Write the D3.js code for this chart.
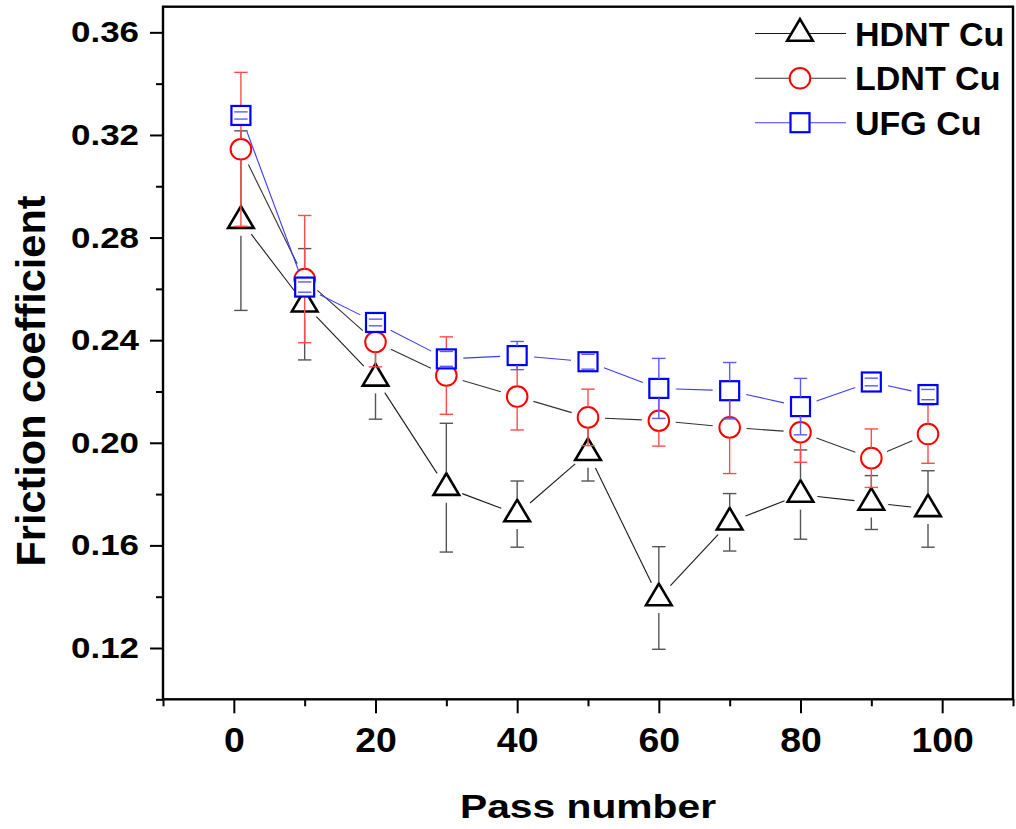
<!DOCTYPE html>
<html><head><meta charset="utf-8">
<script src="https://cdn.jsdelivr.net/npm/d3@7"></script>
<style>
body{margin:0;background:#fff}
svg{display:block}
text{font-family:"Liberation Sans",Arial,Helvetica,sans-serif;font-weight:bold;fill:#000}
</style>
</head><body>
<svg id="chart" width="1016" height="829"></svg>
<script>
// ---- data ----
const passNumbers = [1, 10, 20, 30, 40, 50, 60, 70, 80, 90, 98];
const hdntCu    = [0.2866, 0.2540, 0.2251, 0.1825, 0.1722, 0.1961, 0.1395, 0.1690, 0.1798, 0.1767, 0.1742];
const hdntCuErr = [0.0350, 0.0217, 0.0159, 0.0251, 0.0129, 0.0110, 0.0200, 0.0112, 0.0174, 0.0105, 0.0149];
const ldntCu    = [0.3144, 0.2638, 0.2393, 0.2262, 0.2180, 0.2099, 0.2086, 0.2060, 0.2041, 0.1940, 0.2034];
const ldntCuErr = [0.0300, 0.0248, 0.0097, 0.0151, 0.0130, 0.0110, 0.0099, 0.0180, 0.0117, 0.0114, 0.0114];
const ufgCu     = [0.3276, 0.2607, 0.2469, 0.2327, 0.2340, 0.2316, 0.2212, 0.2203, 0.2141, 0.2237, 0.2188];
const ufgCuErr  = [0.0014, 0.0020, 0.0013, 0.0029, 0.0055, 0.0029, 0.0117, 0.0110, 0.0110, 0.0015, 0.0020];
const seriesNames = ["HDNT Cu", "LDNT Cu", "UFG Cu"];
const xTickValues = [0, 20, 40, 60, 80, 100];
const xMinorValues = [-10, 10, 30, 50, 70, 90, 110];
const yTickValues = [0.12, 0.16, 0.20, 0.24, 0.28, 0.32, 0.36];
const yMinorValues = [0.10, 0.14, 0.18, 0.22, 0.26, 0.30, 0.34];
const xTitle = "Pass number";
const yTitle = "Friction coefficient";

// ---- layout ----
const L = 163, R = 1013, T = 6.7, B = 699.3;
const svg = d3.select("#chart");
const x = d3.scaleLinear().domain([-10, 110]).range([L, R]);
const y = d3.scaleLinear().domain([0.10, 0.37]).range([B, T]);

// axes
const gy = svg.append("g").attr("transform", `translate(${L},0)`)
  .call(d3.axisLeft(y).tickValues(yTickValues).tickSize(13).tickPadding(11).tickFormat(d3.format(".2f")));
const gyMinor = svg.append("g").attr("transform", `translate(${L},0)`)
  .call(d3.axisLeft(y).tickValues(yMinorValues).tickSize(7).tickFormat(""));
const gx = svg.append("g").attr("transform", `translate(0,${B})`)
  .call(d3.axisBottom(x).tickValues(xTickValues).tickSize(14).tickPadding(12).tickFormat(d3.format("d")));
const gxMinor = svg.append("g").attr("transform", `translate(0,${B})`)
  .call(d3.axisBottom(x).tickValues(xMinorValues).tickSize(7).tickFormat(""));
[gy, gyMinor, gx, gxMinor].forEach(g => {
  g.select(".domain").remove();
  g.selectAll(".tick line").attr("stroke", "#000").attr("stroke-width", 2);
});
gy.selectAll(".tick text")
  .attr("font-size", 30).attr("dy", null).attr("y", 9.5)
  .attr("textLength", 68).attr("lengthAdjust", "spacingAndGlyphs")
  .style("font-family", '"Liberation Sans",Arial,sans-serif').style("font-weight", "bold");
gx.selectAll(".tick text")
  .attr("font-size", 35).attr("dy", null).attr("y", 52.4)
  .each(function(d){ const s = d3.format("d")(d); d3.select(this).attr("textLength", s.length * 20.8).attr("lengthAdjust", "spacingAndGlyphs"); })
  .style("font-family", '"Liberation Sans",Arial,sans-serif').style("font-weight", "bold");

// frame
svg.append("rect").attr("x", L).attr("y", T).attr("width", R - L).attr("height", B - T)
  .attr("fill", "none").attr("stroke", "#000").attr("stroke-width", 2.4);

// titles
svg.append("text").attr("x", (L + R) / 2).attr("y", 818).attr("text-anchor", "middle")
  .attr("font-size", 33).attr("textLength", 256).attr("lengthAdjust", "spacingAndGlyphs").text(xTitle);
svg.append("text").attr("transform", "translate(45,381) rotate(-90)").attr("text-anchor", "middle")
  .attr("font-size", 41.5).text(yTitle);

// ---- series ----
const markers = {
  triangle: g => g.append("path").attr("d", "M0,-14.4L12.8,7.2L-12.8,7.2Z"),
  circle: g => g.append("circle").attr("r", 10.3),
  square: g => g.append("rect").attr("x", -9.5).attr("y", -9.5).attr("width", 19).attr("height", 19)
};
const series = [
  {name: seriesNames[0], vals: hdntCu, errs: hdntCuErr, line: "#1a1a1a", err: "#555", marker: "triangle", mc: "#000", msw: 2.6, egap: 15},
  {name: seriesNames[1], vals: ldntCu, errs: ldntCuErr, line: "#333", err: "#ff4a4a", marker: "circle", mc: "#ff0000", msw: 2, egap: 10.3},
  {name: seriesNames[2], vals: ufgCu, errs: ufgCuErr, line: "#3b3bff", err: "#5a5aff", marker: "square", mc: "#0000ff", msw: 2.2, egap: 9.5}
];
const lineGap = 17;
const plot = svg.append("g");
series.forEach(s => {
  const g = plot.append("g");
  const pts = passNumbers.map((p, i) => [x(p), y(s.vals[i])]);
  // gapped connecting line
  for (let i = 0; i < pts.length - 1; i++) {
    const [x0, y0] = pts[i], [x1, y1] = pts[i + 1];
    const dx = x1 - x0, dy = y1 - y0, len = Math.hypot(dx, dy);
    if (len <= 2 * lineGap) continue;
    const ux = dx / len, uy = dy / len;
    g.append("line").attr("x1", x0 + ux * lineGap).attr("y1", y0 + uy * lineGap)
      .attr("x2", x1 - ux * lineGap).attr("y2", y1 - uy * lineGap)
      .attr("stroke", s.line).attr("stroke-width", 1.1);
  }
  // markers
  pts.forEach(([px, py]) => {
    const m = g.append("g").attr("transform", `translate(${px},${py})`);
    markers[s.marker](m).attr("fill", "#fff").attr("stroke", s.mc).attr("stroke-width", s.msw);
  });
  // error bars
  passNumbers.forEach((p, i) => {
    const px = x(p), cy = y(s.vals[i]);
    const yt = y(s.vals[i] + s.errs[i]), yb = y(s.vals[i] - s.errs[i]);
    const eg = g.append("g").attr("stroke", s.err).attr("stroke-width", 1.4);
    if (cy - yt > s.egap) eg.append("line").attr("x1", px).attr("x2", px).attr("y1", yt).attr("y2", cy - s.egap);
    if (yb - cy > s.egap) eg.append("line").attr("x1", px).attr("x2", px).attr("y1", cy + s.egap).attr("y2", yb);
    [yt, yb].forEach(yy => eg.append("line").attr("x1", px - 6.7).attr("x2", px + 6.7).attr("y1", yy).attr("y2", yy));
  });
});

// ---- legend ----
const legendRows = [33.5, 78.3, 122.7];
const legendBase = [46, 90.3, 135];
series.forEach((s, i) => {
  const g = svg.append("g");
  g.append("line").attr("x1", 755).attr("x2", 846).attr("y1", legendRows[i]).attr("y2", legendRows[i])
    .attr("stroke", s.line).attr("stroke-width", 1.1);
  const m = g.append("g").attr("transform", `translate(800,${legendRows[i]})`);
  markers[s.marker](m).attr("fill", "#fff").attr("stroke", s.mc).attr("stroke-width", s.msw);
  g.append("text").attr("x", 855).attr("y", legendBase[i]).attr("font-size", 34).text(s.name);
});
</script>
</body></html>
